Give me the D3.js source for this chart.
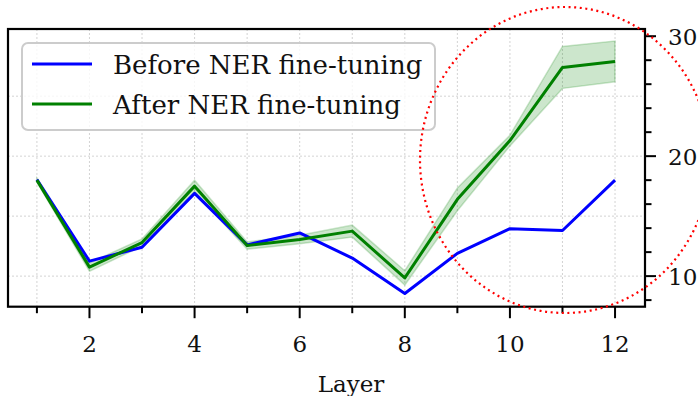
<!DOCTYPE html>
<html lang="en">
<head>
  <meta charset="UTF-8">
  <title>Layer chart</title>
  <style>
    body { margin: 0; background: #fff; }
    svg { display: block; }
    text { font-family: "DejaVu Serif", serif; fill: #111; }
  </style>
</head>
<body>
  <svg width="698" height="396"></svg>
  <script src="https://d3js.org/d3.v7.min.js"></script>
  <script>
    var layers = [1, 2, 3, 4, 5, 6, 7, 8, 9, 10, 11, 12];
    var beforeNER = [18.05, 11.25, 12.4, 16.9, 12.6, 13.6, 11.5, 8.55, 11.9, 13.95, 13.8, 18.0];
    var afterNER  = [18.0, 10.75, 12.8, 17.5, 12.55, 13.05, 13.75, 9.85, 16.4, 21.3, 27.4, 27.9];
    var afterStd  = [0.15, 0.35, 0.3, 0.5, 0.3, 0.35, 0.5, 0.6, 0.95, 0.45, 1.75, 1.7];
    var seriesNames = ["Before NER fine-tuning", "After NER fine-tuning"];
    var xTickLabels = [2, 4, 6, 8, 10, 12];
    var yTickLabels = [10, 20, 30];
    var yMinor = [8, 12, 14, 16, 18, 22, 24, 26, 28];
    var yGrid = [10, 15, 20, 25];

    var svg = d3.select("svg");
    var box = {left: 8, right: 645, top: 29, bottom: 306.7};

    var x = d3.scaleLinear().domain([0.45, 12.57]).range([box.left, box.right]);
    var y = d3.scaleLinear().domain([7.45, 30.6]).range([box.bottom, box.top]);

    // grid
    var grid = svg.append("g").attr("stroke", "#c8c8c8").attr("stroke-width", 0.8).attr("stroke-dasharray", "2,2");
    grid.selectAll(".vg").data(layers).enter().append("line")
      .attr("x1", d => x(d)).attr("x2", d => x(d))
      .attr("y1", box.top).attr("y2", box.bottom);
    grid.selectAll(".hg").data(yGrid).enter().append("line")
      .attr("x1", box.left).attr("x2", box.right)
      .attr("y1", d => y(d)).attr("y2", d => y(d));

    // band for after
    var bandData = layers.map((l, i) => ({l: l, lo: afterNER[i] - afterStd[i], hi: afterNER[i] + afterStd[i]}));
    var area = d3.area().x(d => x(d.l)).y0(d => y(d.lo)).y1(d => y(d.hi));
    svg.append("path")
      .attr("d", area(bandData))
      .attr("fill", "rgba(0,128,0,0.2)")
      .attr("stroke", "rgba(0,128,0,0.2)")
      .attr("stroke-width", 1.5);

    var line = d3.line().x(d => x(d[0])).y(d => y(d[1]));
    svg.append("path")
      .attr("d", line(layers.map((l, i) => [l, beforeNER[i]])))
      .attr("fill", "none").attr("stroke", "#0000ff").attr("stroke-width", 3)
      .attr("stroke-linejoin", "round");
    svg.append("path")
      .attr("d", line(layers.map((l, i) => [l, afterNER[i]])))
      .attr("fill", "none").attr("stroke", "#008000").attr("stroke-width", 3)
      .attr("stroke-linejoin", "round");

    // legend
    var lg = svg.append("g");
    lg.append("rect")
      .attr("x", 22).attr("y", 43).attr("width", 413).attr("height", 87)
      .attr("rx", 6).attr("fill", "rgba(255,255,255,0.8)")
      .attr("stroke", "#cccccc").attr("stroke-width", 2);
    var colors = ["#0000ff", "#008000"];
    seriesNames.forEach((name, i) => {
      var yy = 64 + i * 40;
      lg.append("line").attr("x1", 32).attr("x2", 92).attr("y1", yy).attr("y2", yy)
        .attr("stroke", colors[i]).attr("stroke-width", 3);
      lg.append("text").attr("x", 113).attr("y", yy + 10.3)
        .attr("font-size", 26).text(name);
    });

    // spines
    svg.append("rect")
      .attr("x", box.left).attr("y", box.top)
      .attr("width", box.right - box.left).attr("height", box.bottom - box.top)
      .attr("fill", "none").attr("stroke", "#000").attr("stroke-width", 2.2);

    // x ticks
    var xt = svg.append("g").attr("stroke", "#000").attr("stroke-width", 2);
    xt.selectAll("line").data(layers).enter().append("line")
      .attr("x1", d => x(d)).attr("x2", d => x(d))
      .attr("y1", box.bottom)
      .attr("y2", d => box.bottom + (xTickLabels.indexOf(d) >= 0 ? 11.5 : 6.5));
    svg.selectAll(".xl").data(xTickLabels).enter().append("text")
      .attr("x", d => x(d)).attr("y", 352)
      .attr("text-anchor", "middle").attr("font-size", 23)
      .text(d => d);
    svg.append("text").attr("x", 351).attr("y", 391.5)
      .attr("text-anchor", "middle").attr("font-size", 23).text("Layer");

    // right y ticks
    var yt = svg.append("g").attr("stroke", "#000").attr("stroke-width", 2);
    yt.selectAll(".maj").data(yTickLabels).enter().append("line")
      .attr("x1", box.right).attr("x2", box.right + 11)
      .attr("y1", d => y(d)).attr("y2", d => y(d));
    yt.selectAll(".min").data(yMinor).enter().append("line")
      .attr("x1", box.right).attr("x2", box.right + 6.5)
      .attr("y1", d => y(d)).attr("y2", d => y(d));
    svg.selectAll(".yl").data(yTickLabels).enter().append("text")
      .attr("x", 668).attr("y", d => y(d) + 8.5)
      .attr("font-size", 23).text(d => d);

    // red dotted highlight ellipse
    svg.append("ellipse")
      .attr("cx", 565).attr("cy", 160).attr("rx", 145).attr("ry", 153)
      .attr("fill", "none").attr("stroke", "#ff0000").attr("stroke-width", 2.2)
      .attr("stroke-dasharray", "2,3.6");
  </script>
</body>
</html>
